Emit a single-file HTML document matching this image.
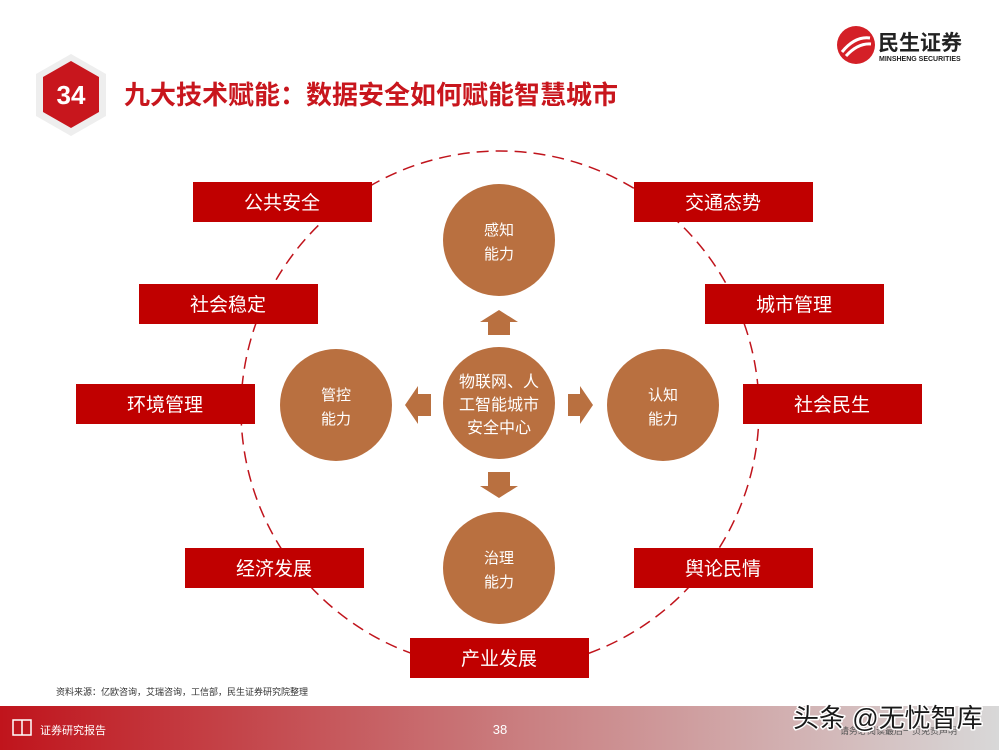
<!DOCTYPE html>
<html><head><meta charset="utf-8"><style>
body{margin:0;width:999px;height:750px;overflow:hidden;background:#fff;font-family:"Liberation Sans","Noto Sans CJK SC",sans-serif;}
</style></head><body>
<svg width="999" height="750" viewBox="0 0 999 750" xmlns="http://www.w3.org/2000/svg" style="position:absolute;left:0;top:0">
<defs>
<linearGradient id="ft" x1="0" x2="1" y1="0" y2="0">
<stop offset="0" stop-color="#c0141c"/><stop offset="0.5" stop-color="#c97a7c"/><stop offset="1" stop-color="#d8d8d8"/>
</linearGradient>
</defs>
<polygon points="71,54 106,74 106,116 71,136 36,116 36,74" fill="#eeeeee"/>
<polygon points="71,61 99,77 99,112 71,128 43,112 43,77" fill="#c8161d"/>
<text x="71" y="104" text-anchor="middle" font-size="26" font-weight="bold" fill="#fff">34</text>
<text x="124" y="104" font-size="26" font-weight="bold" fill="#c8161d" font-family="Liberation Sans,Noto Sans CJK SC,sans-serif">九大技术赋能：数据安全如何赋能智慧城市</text>
<circle cx="856" cy="45" r="19" fill="#d42027"/>
<path d="M842,52 Q855,36 870,38 M846,56 Q858,43 871,44" stroke="#fff" stroke-width="3" fill="none"/>
<text x="878" y="50" font-size="21" font-weight="bold" fill="#222">民生证券</text>
<text x="879" y="61" font-size="7" font-weight="bold" fill="#222">MINSHENG SECURITIES</text>
<circle cx="500" cy="410" r="259" fill="none" stroke="#c0141c" stroke-width="1.5" stroke-dasharray="12,7"/>
<g fill="#b97040">
<circle cx="499" cy="240" r="56"/>
<circle cx="336" cy="405" r="56"/>
<circle cx="663" cy="405" r="56"/>
<circle cx="499" cy="568" r="56"/>
<circle cx="499" cy="403" r="56"/>
<polygon points="499,310 518,322 510,322 510,335 488,335 488,322 480,322"/>
<polygon points="499,498 518,486 510,486 510,472 488,472 488,486 480,486"/>
<polygon points="405,405 418,386 418,394 431,394 431,416 418,416 418,424"/>
<polygon points="593,405 580,386 580,394 568,394 568,416 580,416 580,424"/>
</g>
<g fill="#fff" font-size="15" text-anchor="middle">
<text x="499" y="235">感知</text><text x="499" y="259">能力</text>
<text x="336" y="400">管控</text><text x="336" y="424">能力</text>
<text x="663" y="400">认知</text><text x="663" y="424">能力</text>
<text x="499" y="563">治理</text><text x="499" y="587">能力</text>
<text x="499" y="387" font-size="16">物联网、人</text>
<text x="499" y="410" font-size="16">工智能城市</text>
<text x="499" y="433" font-size="16">安全中心</text>
</g>
<g fill="#c00000">
<rect x="193" y="182" width="179" height="40"/>
<rect x="634" y="182" width="179" height="40"/>
<rect x="139" y="284" width="179" height="40"/>
<rect x="705" y="284" width="179" height="40"/>
<rect x="76" y="384" width="179" height="40"/>
<rect x="743" y="384" width="179" height="40"/>
<rect x="185" y="548" width="179" height="40"/>
<rect x="634" y="548" width="179" height="40"/>
<rect x="410" y="638" width="179" height="40"/>
</g>
<g fill="#fff" font-size="19" text-anchor="middle">
<text x="282" y="209">公共安全</text>
<text x="723" y="209">交通态势</text>
<text x="228" y="311">社会稳定</text>
<text x="794" y="311">城市管理</text>
<text x="165" y="411">环境管理</text>
<text x="832" y="411">社会民生</text>
<text x="274" y="575">经济发展</text>
<text x="723" y="575">舆论民情</text>
<text x="499" y="665">产业发展</text>
</g>
<text x="56" y="695" font-size="9" fill="#333">资料来源：亿欧咨询，艾瑞咨询，工信部，民生证券研究院整理</text>
<rect x="0" y="706" width="999" height="44" fill="url(#ft)"/>
<rect x="13" y="720" width="18" height="15" fill="none" stroke="#fff" stroke-width="1.5"/>
<line x1="22" y1="720" x2="22" y2="735" stroke="#fff" stroke-width="1.5"/>
<text x="40" y="734" font-size="11" fill="#fff">证券研究报告</text>
<text x="500" y="734" font-size="13" fill="#fff" text-anchor="middle">38</text>
<text x="840" y="734" font-size="9" fill="#555">请务必阅读最后一页免责声明</text>
<text x="793" y="727" font-size="26" fill="#1a1a1a" stroke="#fff" stroke-width="3" paint-order="stroke" stroke-linejoin="round">头条 @无忧智库</text>
</svg>
</body></html>
